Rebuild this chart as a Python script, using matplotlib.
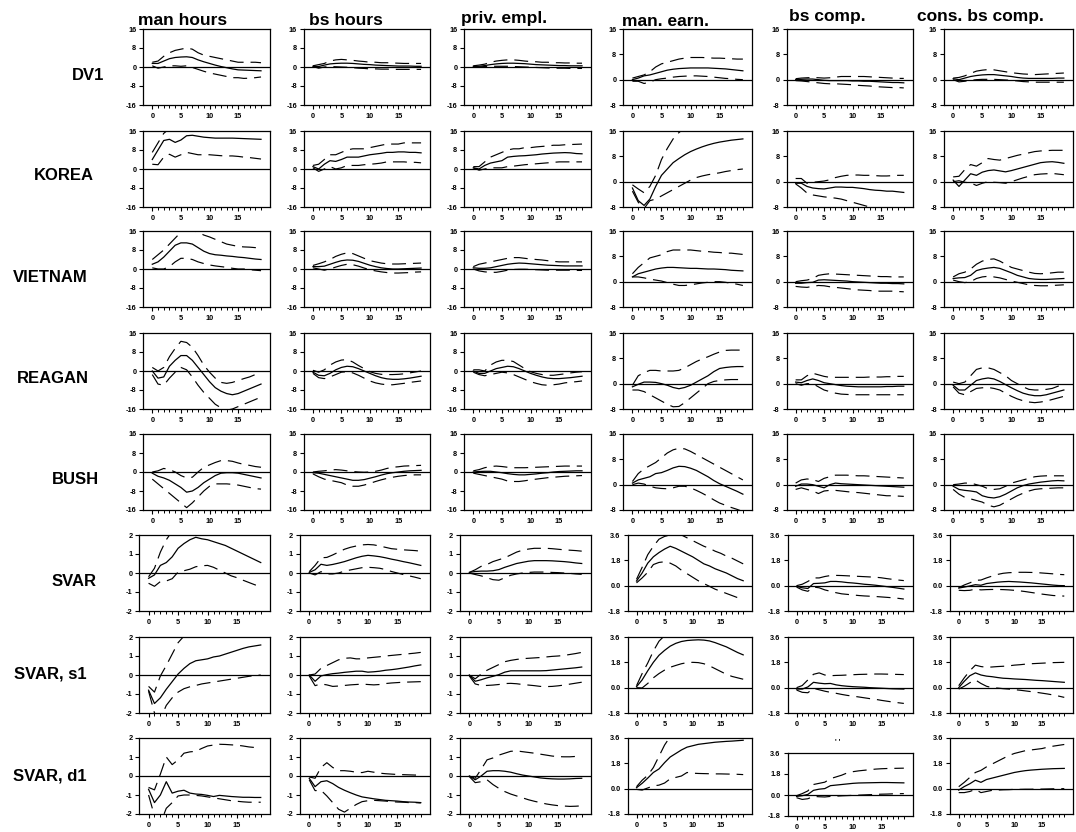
import numpy as np
import matplotlib.pyplot as plt

plt.rcParams['font.family'] = ['Liberation Sans', 'DejaVu Sans']
plt.rcParams['lines.scale_dashes'] = False

# -------- Data --------
steps = np.arange(20)
columns = ["man hours", "bs hours", "priv. empl.", "man. earn.", "bs comp.", "cons. bs comp."]
rows = ["DV1", "KOREA", "VIETNAM", "REAGAN", "BUSH", "SVAR", "SVAR, s1", "SVAR, d1"]

# one list per column: point estimate (mid), lower band (lo), upper band (hi)
dv1_mid = [
    [1.5, 1.5, 2.5, 3.5, 4.0, 4.2, 4.3, 4.0, 3.0, 2.2, 1.5, 0.8, 0.2, -0.3, -0.8, -1.2, -1.3, -1.4, -1.5, -1.6],
    [0.3, 0.2, 0.8, 1.3, 1.5, 1.6, 1.6, 1.5, 1.3, 1.1, 1.0, 0.8, 0.7, 0.6, 0.5, 0.4, 0.4, 0.4, 0.3, 0.3],
    [0.3, 0.3, 0.6, 1.0, 1.3, 1.5, 1.6, 1.6, 1.5, 1.4, 1.2, 1.0, 0.9, 0.8, 0.7, 0.6, 0.6, 0.5, 0.5, 0.5],
    [0.0, 0.5, 1.2, 1.5, 2.0, 2.5, 3.0, 3.3, 3.5, 3.6, 3.7, 3.7, 3.7, 3.7, 3.6, 3.5, 3.4, 3.2, 3.0, 2.8],
    [0.0, 0.1, 0.2, 0.2, 0.0, -0.2, -0.3, -0.3, -0.3, -0.3, -0.4, -0.4, -0.5, -0.5, -0.6, -0.7, -0.8, -0.9, -0.9, -1.0],
    [0.3, 0.0, 0.5, 1.0, 1.3, 1.5, 1.6, 1.6, 1.4, 1.2, 1.0, 0.7, 0.5, 0.4, 0.4, 0.4, 0.4, 0.4, 0.5, 0.5],
]
dv1_lo = [
    [0.5, -0.5, 0.0, 0.5, 0.5, 0.3, 0.5, -0.2, -1.0, -1.8, -2.5, -3.0, -3.5, -4.0, -4.5, -4.5, -4.8, -4.7, -4.5, -4.2],
    [0.2, -0.5, 0.0, 0.2, 0.1, 0.0, -0.1, -0.3, -0.5, -0.6, -0.8, -0.8, -0.9, -0.9, -1.0, -1.0, -1.0, -1.0, -1.0, -1.0],
    [0.2, 0.0, 0.2, 0.3, 0.3, 0.3, 0.3, 0.2, 0.1, 0.0, -0.1, -0.2, -0.3, -0.4, -0.5, -0.5, -0.5, -0.6, -0.6, -0.6],
    [-0.5, -0.5, -1.2, -0.8, 0.0, 0.3, 0.5, 0.8, 1.0, 1.1, 1.2, 1.2, 1.1, 1.0, 0.8, 0.6, 0.4, 0.3, 0.1, 0.0],
    [-0.3, -0.4, -0.6, -0.8, -1.0, -1.2, -1.3, -1.3, -1.4, -1.5, -1.6, -1.8, -1.9, -2.0, -2.2, -2.3, -2.4, -2.5, -2.5, -2.6],
    [0.0, -0.7, -0.5, -0.2, 0.0, 0.1, 0.1, 0.1, 0.0, -0.1, -0.2, -0.4, -0.6, -0.7, -0.8, -0.8, -0.8, -0.8, -0.8, -0.8],
]
dv1_hi = [
    [2.0, 2.5, 4.5, 6.0, 7.0, 7.5, 8.0, 7.5, 6.0, 5.0, 4.5, 4.0, 3.5, 3.0, 2.5, 2.0, 2.0, 2.0, 2.0, 1.8],
    [0.5, 1.0, 1.5, 2.5, 3.0, 3.2, 3.0, 2.8, 2.5, 2.3, 2.0, 2.0, 1.8, 1.8, 1.7, 1.6, 1.5, 1.5, 1.5, 1.5],
    [0.5, 0.8, 1.2, 2.0, 2.5, 2.8, 3.0, 3.0, 2.8, 2.5, 2.3, 2.2, 2.0, 2.0, 1.8, 1.8, 1.7, 1.7, 1.6, 1.6],
    [0.5, 1.0, 1.5, 2.5, 4.0, 5.0, 5.5, 6.0, 6.5, 6.8, 7.0, 7.0, 7.0, 6.9, 6.8, 6.8, 6.7, 6.6, 6.5, 6.5],
    [0.3, 0.5, 0.6, 0.7, 0.6, 0.5, 0.6, 0.8, 1.0, 1.0, 1.0, 1.0, 1.0, 0.9, 0.8, 0.7, 0.6, 0.5, 0.4, 0.4],
    [0.5, 0.7, 1.2, 2.0, 2.7, 3.0, 3.2, 3.1, 2.8, 2.5, 2.2, 2.0, 1.8, 1.7, 1.6, 1.7, 1.8, 1.9, 2.0, 2.1],
]

korea_mid = [
    [4.0, 8.0, 12.0, 12.5, 11.2, 12.2, 14.0, 14.2, 13.8, 13.4, 13.2, 13.0, 13.0, 13.0, 13.0, 12.9, 12.8, 12.7, 12.6, 12.5],
    [1.0, 0.0, 2.0, 3.5, 3.2, 4.0, 5.0, 5.0, 5.0, 5.5, 6.0, 6.3, 6.6, 7.0, 7.0, 7.2, 7.2, 7.0, 7.0, 6.8],
    [0.5, 0.0, 1.5, 2.5, 3.0, 3.5, 5.0, 5.3, 5.5, 5.6, 5.8, 6.0, 6.3, 6.5, 6.7, 6.8, 6.9, 6.8, 6.5, 6.4],
    [-2.0, -6.0, -7.5, -5.5, -1.5, 2.0, 4.0, 6.0, 7.3, 8.5, 9.5, 10.3, 11.0, 11.6, 12.1, 12.5, 12.8, 13.1, 13.3, 13.5],
    [-0.5, -0.5, -1.5, -2.0, -2.2, -2.3, -2.0, -1.7, -1.7, -1.8, -1.8, -2.0, -2.2, -2.5, -2.7, -2.8, -3.0, -3.0, -3.2, -3.4],
    [0.5, -1.5, 0.5, 2.5, 2.0, 3.0, 3.5, 3.7, 3.4, 3.1, 3.5, 4.0, 4.5, 5.0, 5.5, 6.0, 6.2, 6.3, 6.1, 5.8],
]
korea_lo = [
    [2.0, 1.8, 5.0, 6.2, 5.0, 6.0, 7.0, 6.5, 6.0, 6.0, 6.0, 5.8, 5.6, 5.5, 5.5, 5.3, 5.0, 4.8, 4.5, 4.2],
    [0.5, -1.0, 0.0, 1.0, 0.0, 0.5, 1.5, 1.5, 1.5, 1.8, 2.0, 2.2, 2.5, 3.0, 3.0, 3.0, 3.0, 2.8, 2.8, 2.6],
    [0.5, -0.5, 0.0, 0.5, 0.5, 0.5, 1.0, 1.2, 1.5, 1.8, 2.0, 2.2, 2.4, 2.6, 2.8, 3.0, 3.0, 3.0, 3.0, 3.0],
    [-3.0, -6.5, -8.5, -6.0, -5.5, -4.5, -3.5, -2.5, -1.5, -0.5, 0.5, 1.3, 1.8, 2.2, 2.5, 2.8, 3.2, 3.5, 3.8, 4.0],
    [-0.7, -2.0, -3.6, -4.2, -4.5, -4.8, -5.0, -5.2, -5.5, -6.0, -6.5, -7.0, -7.5, -8.0, -8.5, -8.7, -8.8, -8.8, -8.8, -8.8],
    [0.0, 0.3, -0.2, -0.4, -1.2, -0.5, 0.0, -0.2, -0.3, -0.5, 0.0, 0.6, 1.2, 1.7, 2.2, 2.4, 2.5, 2.6, 2.4, 2.2],
]
korea_hi = [
    [7.0, 11.0, 15.0, 17.0, 18.0, 18.0, 18.0, 18.0, 18.0, 18.0, 18.0, 18.0, 18.0, 18.0, 18.0, 18.0, 18.0, 18.0, 18.0, 18.0],
    [1.5, 2.0, 4.0, 6.0, 6.0, 7.0, 8.0, 8.5, 8.5, 8.5, 9.0, 9.5, 10.0, 10.5, 10.5, 10.5, 11.0, 11.0, 11.0, 11.0],
    [1.0, 1.0, 3.0, 5.0, 6.0, 7.0, 8.0, 8.5, 8.5, 9.0, 9.0, 9.3, 9.5, 9.7, 10.0, 10.0, 10.2, 10.3, 10.4, 10.5],
    [-1.0, -2.3, -3.5, -1.5, 2.0, 7.0, 10.5, 13.5, 15.5, 17.0, 18.0, 19.0, 19.0, 19.0, 19.0, 19.0, 19.0, 19.0, 19.0, 19.0],
    [1.0, 1.0, -0.5, -0.2, 0.0, 0.2, 0.6, 1.3, 1.7, 2.0, 2.1, 2.1, 2.0, 2.0, 1.9, 1.8, 1.8, 1.9, 2.0, 2.0],
    [1.5, 1.7, 3.8, 5.4, 4.9, 6.0, 7.3, 7.0, 6.8, 7.3, 7.8, 8.3, 8.7, 9.1, 9.5, 9.7, 9.8, 9.9, 9.9, 9.9],
]

vietnam_mid = [
    [2.0, 3.0, 5.0, 7.5, 10.0, 11.0, 11.0, 10.5, 9.0, 7.5, 6.5, 6.0, 5.8, 5.5, 5.3, 5.0, 4.8, 4.5, 4.2, 4.0],
    [1.0, 1.0, 1.2, 2.0, 2.8, 3.5, 3.8, 3.7, 3.2, 2.4, 1.6, 1.0, 0.5, 0.2, 0.0, 0.0, 0.1, 0.2, 0.3, 0.4],
    [0.5, 0.3, 0.3, 0.5, 1.0, 1.5, 2.0, 2.3, 2.5, 2.4, 2.2, 2.0, 1.8, 1.6, 1.5, 1.4, 1.3, 1.3, 1.3, 1.3],
    [1.5, 2.5, 3.0, 3.5, 4.0, 4.3, 4.5, 4.5, 4.4, 4.3, 4.2, 4.2, 4.1, 4.0, 4.0, 3.9, 3.8, 3.6, 3.5, 3.4],
    [-0.5, -0.5, -0.3, -0.2, 0.5, 0.6, 0.5, 0.4, 0.3, 0.2, 0.0, -0.1, -0.2, -0.3, -0.4, -0.5, -0.5, -0.6, -0.6, -0.7],
    [1.0, 1.2, 1.3, 2.0, 3.5, 4.0, 4.3, 4.5, 4.2, 3.5, 2.8, 2.0, 1.5, 1.0, 0.8, 0.7, 0.7, 0.8, 0.9, 1.0],
]
vietnam_lo = [
    [0.5, 0.0, 0.0, 1.0, 3.0, 4.5, 4.5, 4.0, 3.0, 2.3, 1.7, 1.3, 1.0, 0.7, 0.3, 0.0, 0.0, -0.3, -0.5, -0.7],
    [0.5, 0.0, -0.5, 0.0, 0.8, 1.5, 2.0, 1.8, 1.2, 0.4, -0.3, -0.8, -1.2, -1.5, -1.7, -1.7, -1.6, -1.5, -1.3, -1.2],
    [0.0, -0.8, -1.2, -1.4, -1.4, -1.0, -0.5, -0.2, -0.1, -0.1, -0.2, -0.3, -0.4, -0.5, -0.5, -0.5, -0.5, -0.5, -0.6, -0.6],
    [1.5, 1.5, 1.2, 0.8, 0.5, 0.2, -0.3, -0.8, -1.2, -1.2, -1.0, -0.7, -0.4, -0.2, 0.0, 0.0, -0.2, -0.5, -0.8, -1.2],
    [-1.5, -1.7, -1.8, -1.5, -1.2, -1.3, -1.6, -1.8, -2.0, -2.2, -2.4, -2.6, -2.7, -2.8, -3.0, -3.0, -3.0, -3.0, -3.1, -3.2],
    [0.5, 0.0, -0.3, 0.0, 1.0, 1.5, 1.7, 1.5, 1.2, 0.7, 0.2, -0.2, -0.6, -1.0, -1.2, -1.3, -1.3, -1.2, -1.1, -1.0],
]
vietnam_hi = [
    [4.0, 6.0, 8.0, 10.5, 13.0, 15.5, 16.5, 16.3, 15.5, 14.3, 13.5, 12.5, 11.5, 10.5, 10.0, 9.5, 9.3, 9.2, 9.0, 9.0],
    [1.5, 2.2, 3.0, 4.0, 5.3, 6.2, 6.8, 6.5, 5.5, 4.5, 3.5, 3.0, 2.5, 2.2, 2.1, 2.1, 2.2, 2.3, 2.4, 2.5],
    [1.0, 2.0, 2.5, 3.0, 3.5, 4.0, 4.5, 4.8, 4.8, 4.5, 4.2, 4.0, 3.8, 3.5, 3.2, 3.0, 3.0, 3.0, 3.0, 3.0],
    [2.5, 4.5, 6.0, 7.5, 8.0, 8.5, 9.5, 10.0, 10.0, 10.0, 10.0, 9.8, 9.6, 9.5, 9.3, 9.2, 9.0, 9.0, 8.8, 8.6],
    [0.0, 0.3, 0.5, 1.0, 2.0, 2.3, 2.5, 2.4, 2.3, 2.2, 2.1, 2.0, 1.9, 1.8, 1.7, 1.6, 1.6, 1.5, 1.5, 1.5],
    [1.5, 2.5, 3.0, 4.0, 5.5, 6.5, 7.0, 7.2, 6.5, 5.5, 4.5, 4.0, 3.5, 3.0, 2.6, 2.5, 2.6, 2.8, 3.0, 3.0],
]

reagan_mid = [
    [0.0, -3.0, -2.5, 2.0, 4.5, 6.5, 6.5, 4.5, 1.5, -1.5, -4.5, -7.0, -8.5, -9.5, -10.0, -9.5, -8.5, -7.5, -6.5, -5.5],
    [-0.5, -1.8, -2.0, -1.0, 0.5, 1.5, 2.0, 1.8, 1.0, 0.0, -1.0, -2.0, -2.8, -3.3, -3.5, -3.5, -3.3, -3.0, -2.6, -2.2],
    [0.0, -1.0, -1.0, 0.0, 1.0, 1.5, 2.0, 1.8, 1.0, 0.0, -1.0, -1.8, -2.5, -3.0, -3.2, -3.2, -3.0, -2.8, -2.5, -2.2],
    [-1.0, -0.2, 0.5, 0.5, 0.4, 0.0, -0.5, -1.2, -1.6, -1.2, -0.5, 0.5, 1.5, 2.5, 3.8, 4.8, 5.1, 5.3, 5.4, 5.4],
    [0.5, 0.3, 1.0, 1.5, 1.0, 0.3, 0.0, -0.3, -0.6, -0.8, -0.9, -1.0, -1.0, -1.0, -1.0, -1.0, -0.9, -0.9, -0.8, -0.8],
    [-0.5, -2.0, -2.0, -0.5, 1.0, 1.5, 1.8, 1.5, 0.7, -0.3, -1.3, -2.2, -3.0, -3.5, -3.8, -3.8, -3.5, -3.0, -2.5, -2.0],
]
reagan_lo = [
    [-1.5, -5.5, -6.0, -3.0, -0.5, 1.5, 0.5, -2.5, -6.0, -9.0, -11.5, -14.0, -15.5, -16.5, -16.0, -15.0, -14.0, -13.0, -12.0, -11.0],
    [-1.0, -2.8, -3.2, -2.5, -1.5, -0.5, -0.3, -0.8, -1.8, -3.0, -4.2, -5.0, -5.5, -5.8, -5.8, -5.5, -5.2, -4.8, -4.5, -4.2],
    [-0.5, -1.5, -2.0, -1.5, -1.0, -0.5, -0.8, -1.5, -2.5, -3.5, -4.5, -5.2, -5.8, -6.0, -5.8, -5.5, -5.0, -4.7, -4.5, -4.2],
    [-2.0, -2.0, -2.5, -3.5, -4.5, -5.5, -6.5, -7.3, -7.2, -6.0, -4.5, -3.0, -1.5, 0.0, 0.7, 1.0, 1.2, 1.3, 1.3, 1.3],
    [0.0, -0.5, 0.0, 0.0, -1.0, -2.0, -2.5, -3.0, -3.3, -3.4, -3.5, -3.5, -3.5, -3.5, -3.5, -3.5, -3.5, -3.5, -3.5, -3.5],
    [-1.0, -3.0, -3.5, -2.5, -1.5, -1.3, -1.2, -1.5, -2.0, -3.0, -4.0, -4.8, -5.4, -5.8, -6.0, -5.8, -5.5, -5.0, -4.5, -4.0],
]
reagan_hi = [
    [1.5, 0.0, 1.5, 6.0, 9.5, 12.5, 12.0, 10.0, 6.5, 2.5, -0.5, -3.0, -4.8, -5.2, -4.8, -4.0, -3.2, -2.5, -1.5, -0.8],
    [0.3, -0.5, 0.5, 2.5, 3.8, 4.6, 4.8, 3.8, 2.3, 1.0, -0.3, -1.0, -1.4, -1.5, -1.5, -1.4, -1.2, -0.8, -0.4, 0.0],
    [0.5, 0.5, 0.0, 2.5, 3.8, 4.5, 4.5, 4.0, 2.5, 1.0, -0.3, -1.0, -1.5, -1.8, -1.8, -1.5, -1.2, -0.8, -0.5, -0.3],
    [-0.5, 2.5, 3.5, 4.2, 4.2, 4.0, 4.0, 4.0, 4.2, 5.0, 6.0, 7.0, 7.8, 8.5, 9.3, 10.0, 10.5, 10.6, 10.6, 10.6],
    [1.2, 1.2, 2.5, 3.3, 2.8, 2.3, 2.0, 2.0, 2.0, 2.0, 2.0, 2.0, 2.0, 2.1, 2.1, 2.1, 2.2, 2.2, 2.3, 2.3],
    [0.5, 0.0, 0.5, 2.5, 4.5, 5.0, 5.0, 4.5, 3.5, 2.5, 1.0, 0.0, -1.0, -1.8, -2.0, -2.0, -1.8, -1.5, -0.8, 0.0],
]

bush_mid = [
    [-0.5, -1.8, -2.5, -3.5, -5.0, -6.5, -8.5, -8.0, -6.5, -4.5, -3.0, -1.5, -0.5, -0.3, -0.3, -0.5, -1.0, -1.5, -2.0, -2.5],
    [-0.3, -0.5, -1.0, -1.5, -2.0, -2.5, -3.0, -3.5, -3.5, -3.2, -2.6, -2.0, -1.3, -0.7, -0.3, 0.0, 0.3, 0.5, 0.6, 0.7],
    [0.0, 0.2, 0.3, 0.3, 0.0, -0.3, -0.7, -1.0, -1.2, -1.2, -1.0, -0.8, -0.5, -0.3, 0.0, 0.2, 0.3, 0.4, 0.5, 0.5],
    [0.5, 1.5, 2.0, 2.5, 3.5, 3.8, 4.5, 5.3, 5.8, 5.7, 5.2, 4.5, 3.5, 2.5, 1.3, 0.3, -0.5, -1.3, -2.1, -3.0],
    [-0.5, 0.2, 0.2, 0.0, -0.5, -1.0, 0.0, 0.5, 0.3, 0.2, 0.1, 0.0, -0.1, -0.2, -0.3, -0.4, -0.5, -0.6, -0.7, -0.8],
    [-0.5, -1.5, -1.8, -2.0, -2.3, -3.5, -4.0, -4.2, -3.8, -3.0, -2.0, -1.0, -0.3, 0.2, 0.5, 0.8, 1.0, 1.2, 1.3, 1.2],
]
bush_lo = [
    [-3.0, -5.0, -7.0, -9.0, -11.0, -13.0, -15.0, -13.0, -10.5, -8.0, -6.0, -5.0, -5.0, -5.0, -5.2, -5.5, -6.0, -6.5, -7.0, -7.2],
    [-0.8, -2.0, -3.0, -3.5, -4.0, -4.5, -5.5, -6.0, -6.0, -5.5, -4.8, -4.0, -3.3, -2.7, -2.2, -1.8, -1.5, -1.3, -1.2, -1.2],
    [-0.5, -1.0, -1.5, -2.0, -2.5, -3.0, -3.8, -4.0, -4.0, -3.7, -3.3, -3.0, -2.7, -2.4, -2.2, -2.0, -1.8, -1.7, -1.6, -1.5],
    [0.0, 0.5, 0.2, -0.5, -1.0, -1.2, -1.3, -1.0, -0.5, -0.5, -1.0, -1.8, -2.7, -3.7, -4.8, -5.8, -6.5, -7.2, -7.8, -8.5],
    [-1.5, -1.0, -1.5, -2.0, -2.8, -2.0, -1.8, -1.8, -2.0, -2.2, -2.4, -2.5, -2.7, -2.9, -3.1, -3.3, -3.5, -3.5, -3.6, -3.7],
    [-1.5, -3.0, -4.0, -4.5, -5.0, -5.5, -6.5, -7.0, -6.5, -5.5, -4.5, -3.5, -2.7, -2.0, -1.5, -1.3, -1.2, -1.1, -1.0, -1.0],
]
bush_hi = [
    [0.0, 0.5, 1.5, 1.0, 0.0, -1.5, -2.5, -2.2, 0.0, 2.0, 3.0, 4.0, 4.8, 4.8, 4.5, 3.8, 3.2, 2.8, 2.3, 2.0],
    [0.0, 0.3, 0.5, 0.8, 1.0, 0.8, 0.5, 0.2, 0.0, -0.1, 0.0, 0.3, 0.8, 1.5, 2.0, 2.2, 2.5, 2.6, 2.7, 2.8],
    [0.5, 1.0, 1.8, 2.3, 2.5, 2.3, 2.0, 1.8, 1.8, 1.8, 1.9, 2.0, 2.1, 2.2, 2.3, 2.4, 2.5, 2.5, 2.5, 2.5],
    [1.0, 3.5, 5.0, 6.0, 7.0, 8.5, 10.0, 11.0, 11.5, 11.3, 10.5, 9.5, 8.5, 7.5, 6.5, 5.5, 4.5, 3.5, 2.5, 1.5],
    [0.5, 1.5, 1.8, 1.6, 1.0, 2.0, 2.5, 3.0, 3.0, 3.0, 2.9, 2.8, 2.8, 2.7, 2.6, 2.5, 2.4, 2.3, 2.2, 2.1],
    [0.0, 0.2, 0.5, 0.5, 0.0, -0.5, -1.3, -1.5, -1.3, -0.5, 0.5, 1.0, 1.5, 2.0, 2.5, 2.7, 2.8, 2.8, 2.8, 2.8],
]

svar_mid = [
    [-0.28, -0.1, 0.4, 0.55, 0.85, 1.3, 1.55, 1.75, 1.88, 1.8, 1.75, 1.65, 1.55, 1.45, 1.3, 1.15, 1.0, 0.85, 0.7, 0.55],
    [0.03, 0.17, 0.46, 0.4, 0.45, 0.52, 0.6, 0.7, 0.8, 0.88, 0.93, 0.9, 0.86, 0.8, 0.73, 0.67, 0.6, 0.54, 0.47, 0.4],
    [0.03, 0.08, 0.1, 0.1, 0.12, 0.18, 0.3, 0.4, 0.5, 0.56, 0.62, 0.65, 0.65, 0.65, 0.64, 0.62, 0.6, 0.57, 0.53, 0.5],
    [0.33, 0.9, 1.6, 2.05, 2.35, 2.6, 2.8, 2.65, 2.45, 2.25, 2.05, 1.8, 1.55, 1.4, 1.2, 1.05, 0.9, 0.7, 0.5, 0.35],
    [-0.05, -0.15, -0.2, 0.15, 0.17, 0.2, 0.3, 0.3, 0.27, 0.22, 0.19, 0.15, 0.1, 0.07, 0.03, -0.02, -0.07, -0.12, -0.18, -0.24],
    [-0.17, -0.1, -0.02, 0.07, 0.03, 0.15, 0.2, 0.25, 0.28, 0.3, 0.28, 0.26, 0.23, 0.2, 0.16, 0.12, 0.08, 0.04, 0.01, 0.0],
]
svar_lo = [
    [-0.54, -0.7, -0.45, -0.42, -0.3, 0.05, 0.12, 0.2, 0.33, 0.38, 0.4, 0.3, 0.15, 0.0, -0.15, -0.25, -0.38, -0.5, -0.62, -0.72],
    [0.0, -0.1, 0.07, -0.05, -0.05, 0.0, 0.1, 0.16, 0.22, 0.28, 0.3, 0.28, 0.25, 0.18, 0.08, 0.0, -0.08, -0.15, -0.22, -0.3],
    [0.0, -0.08, -0.15, -0.25, -0.35, -0.38, -0.25, -0.12, -0.05, 0.0, 0.03, 0.05, 0.05, 0.05, 0.03, 0.02, 0.0, -0.02, -0.05, -0.07],
    [0.2, 0.55, 0.95, 1.5, 1.65, 1.7, 1.6, 1.4, 1.1, 0.85, 0.6, 0.35, 0.15, -0.05, -0.25, -0.4, -0.55, -0.7, -0.85, -0.96],
    [-0.1, -0.3, -0.4, -0.1, -0.15, -0.3, -0.4, -0.5, -0.58, -0.62, -0.66, -0.7, -0.73, -0.75, -0.77, -0.8, -0.83, -0.86, -0.9, -0.95],
    [-0.33, -0.35, -0.33, -0.24, -0.3, -0.28, -0.27, -0.27, -0.28, -0.3, -0.33, -0.37, -0.42, -0.48, -0.54, -0.6, -0.65, -0.7, -0.72, -0.74],
]
svar_hi = [
    [-0.2, 0.25, 1.1, 1.75, 2.2, 2.5, 2.7, 2.8, 2.9, 2.9, 2.9, 2.8, 2.7, 2.6, 2.5, 2.4, 2.3, 2.2, 2.1, 2.05],
    [0.07, 0.4, 0.8, 0.82, 0.95, 1.1, 1.25, 1.35, 1.42, 1.48, 1.5, 1.48, 1.42, 1.35, 1.28, 1.25, 1.22, 1.2, 1.18, 1.15],
    [0.03, 0.17, 0.35, 0.45, 0.6, 0.7, 0.8, 0.95, 1.1, 1.2, 1.26, 1.3, 1.3, 1.3, 1.28, 1.25, 1.22, 1.2, 1.18, 1.15],
    [0.45, 1.3, 2.2, 2.8, 3.3, 3.5, 3.6, 3.65, 3.6, 3.4, 3.2, 3.0, 2.8, 2.65, 2.45, 2.3, 2.1, 1.95, 1.75, 1.55],
    [0.0, 0.1, 0.3, 0.55, 0.55, 0.65, 0.72, 0.73, 0.72, 0.7, 0.68, 0.66, 0.64, 0.62, 0.6, 0.56, 0.5, 0.45, 0.4, 0.36],
    [-0.15, 0.05, 0.2, 0.38, 0.4, 0.55, 0.68, 0.8, 0.88, 0.92, 0.94, 0.95, 0.95, 0.94, 0.93, 0.9, 0.87, 0.84, 0.8, 0.78],
]

s1_mid = [
    [-0.8, -1.5, -1.2, -0.75, -0.35, 0.05, 0.35, 0.6, 0.75, 0.8, 0.85, 0.95, 1.0, 1.1, 1.2, 1.3, 1.4, 1.48, 1.53, 1.58],
    [0.0, -0.33, -0.05, 0.02, 0.07, 0.1, 0.14, 0.17, 0.2, 0.2, 0.15, 0.17, 0.2, 0.25, 0.28, 0.32, 0.37, 0.42, 0.48, 0.53],
    [0.0, -0.33, -0.25, -0.15, -0.07, 0.02, 0.15, 0.22, 0.22, 0.22, 0.22, 0.22, 0.22, 0.23, 0.26, 0.29, 0.32, 0.35, 0.38, 0.42],
    [0.07, 0.55, 1.2, 1.8, 2.3, 2.65, 2.95, 3.15, 3.28, 3.35, 3.38, 3.4, 3.38, 3.32, 3.2, 3.05, 2.9, 2.7, 2.5, 2.33],
    [-0.1, -0.1, 0.05, 0.38, 0.32, 0.28, 0.3, 0.2, 0.14, 0.1, 0.07, 0.05, 0.03, 0.0, -0.02, -0.04, -0.06, -0.08, -0.09, -0.1],
    [0.0, 0.45, 0.85, 1.05, 0.9, 0.82, 0.78, 0.72, 0.67, 0.65, 0.62, 0.6, 0.58, 0.55, 0.52, 0.5, 0.47, 0.44, 0.41, 0.38],
]
s1_lo = [
    [-0.85, -2.0, -2.3, -1.6, -1.2, -0.9, -0.72, -0.62, -0.55, -0.47, -0.42, -0.37, -0.32, -0.27, -0.22, -0.17, -0.12, -0.07, -0.03, 0.0],
    [-0.05, -0.56, -0.47, -0.52, -0.6, -0.58, -0.55, -0.52, -0.5, -0.48, -0.5, -0.52, -0.5, -0.45, -0.42, -0.4, -0.38, -0.37, -0.36, -0.35],
    [-0.05, -0.47, -0.55, -0.55, -0.53, -0.5, -0.45, -0.44, -0.46, -0.5, -0.53, -0.56, -0.6, -0.61, -0.6, -0.57, -0.53, -0.48, -0.43, -0.38],
    [0.0, -0.02, 0.3, 0.7, 1.0, 1.25, 1.45, 1.58, 1.7, 1.78, 1.8, 1.78, 1.7, 1.55, 1.35, 1.15, 0.95, 0.8, 0.7, 0.6],
    [-0.17, -0.33, -0.36, -0.05, -0.15, -0.25, -0.33, -0.4, -0.48, -0.55, -0.6, -0.66, -0.72, -0.78, -0.83, -0.9, -0.96, -1.02, -1.07, -1.12],
    [-0.1, 0.1, 0.35, 0.55, 0.3, 0.1, 0.0, -0.03, -0.07, -0.1, -0.14, -0.18, -0.23, -0.28, -0.33, -0.39, -0.45, -0.52, -0.6, -0.69],
]
s1_hi = [
    [-0.6, -0.9, -0.05, 0.5, 1.1, 1.7, 2.05, 2.2, 2.3, 2.35, 2.4, 2.4, 2.4, 2.4, 2.4, 2.4, 2.35, 2.3, 2.3, 2.3],
    [0.0, 0.05, 0.35, 0.5, 0.65, 0.8, 0.88, 0.9, 0.85, 0.85, 0.9, 0.93, 0.96, 1.0, 1.03, 1.06, 1.09, 1.12, 1.15, 1.19],
    [0.0, -0.2, 0.05, 0.25, 0.4, 0.55, 0.7, 0.77, 0.82, 0.86, 0.88, 0.9, 0.92, 0.95, 0.98, 1.0, 1.03, 1.08, 1.13, 1.19],
    [0.14, 1.0, 1.75, 2.6, 3.3, 3.7, 4.0, 4.2, 4.3, 4.4, 4.4, 4.4, 4.4, 4.3, 4.2, 4.1, 4.0, 3.9, 3.8, 3.75],
    [0.0, 0.15, 0.55, 0.95, 1.05, 0.9, 0.85, 0.87, 0.88, 0.9, 0.92, 0.94, 0.95, 0.96, 0.97, 0.97, 0.96, 0.95, 0.94, 0.93],
    [0.14, 0.7, 1.2, 1.6, 1.5, 1.45, 1.47, 1.5, 1.52, 1.55, 1.6, 1.63, 1.67, 1.7, 1.72, 1.74, 1.76, 1.78, 1.79, 1.8],
]

d1_mid = [
    [-0.7, -1.4, -1.0, -0.3, -0.9, -0.8, -0.75, -0.9, -0.95, -0.97, -1.02, -1.08, -1.02, -1.05, -1.08, -1.1, -1.12, -1.12, -1.13, -1.13],
    [-0.12, -0.56, -0.3, -0.25, -0.4, -0.6, -0.75, -0.88, -1.0, -1.1, -1.15, -1.2, -1.24, -1.28, -1.3, -1.32, -1.35, -1.37, -1.38, -1.4],
    [0.0, -0.2, 0.0, 0.25, 0.28, 0.28, 0.25, 0.2, 0.12, 0.05, 0.0, -0.05, -0.1, -0.13, -0.15, -0.16, -0.16, -0.15, -0.13, -0.12],
    [0.07, 0.38, 0.75, 1.15, 1.4, 1.85, 2.25, 2.5, 2.75, 2.95, 3.05, 3.15, 3.2, 3.25, 3.3, 3.33, 3.36, 3.38, 3.41, 3.44],
    [-0.12, -0.06, 0.05, 0.4, 0.5, 0.55, 0.8, 0.85, 0.9, 0.95, 1.0, 1.03, 1.04, 1.05, 1.06, 1.07, 1.07, 1.06, 1.05, 1.04],
    [-0.1, 0.15, 0.35, 0.6, 0.45, 0.65, 0.75, 0.85, 0.95, 1.05, 1.15, 1.22, 1.28, 1.32, 1.35, 1.38, 1.4, 1.42, 1.43, 1.44],
]
d1_lo = [
    [-1.0, -2.1, -2.5, -1.7, -1.4, -1.05, -1.0, -1.0, -1.02, -1.05, -1.1, -1.15, -1.2, -1.25, -1.3, -1.33, -1.36, -1.38, -1.38, -1.38],
    [-0.2, -0.77, -0.75, -1.05, -1.4, -1.75, -1.9, -1.7, -1.5, -1.35, -1.3, -1.28, -1.3, -1.32, -1.35, -1.37, -1.38, -1.4, -1.4, -1.42],
    [-0.03, -0.35, -0.3, -0.2, -0.45, -0.65, -0.82, -0.95, -1.05, -1.15, -1.25, -1.33, -1.4, -1.47, -1.52, -1.56, -1.58, -1.6, -1.59, -1.57],
    [-0.05, -0.1, 0.05, 0.2, 0.25, 0.4, 0.7, 0.8, 0.9, 1.15, 1.1, 1.08, 1.07, 1.06, 1.05, 1.05, 1.04, 1.03, 1.02, 1.0],
    [-0.23, -0.38, -0.32, -0.12, -0.15, -0.17, -0.12, -0.1, -0.07, -0.05, -0.03, -0.01, 0.01, 0.03, 0.05, 0.07, 0.08, 0.1, 0.11, 0.12],
    [-0.28, -0.28, -0.2, -0.05, -0.28, -0.2, -0.12, -0.1, -0.08, -0.07, -0.05, -0.05, -0.04, -0.04, -0.03, -0.03, -0.02, -0.01, 0.0, 0.0],
]
d1_hi = [
    [-0.6, -0.73, 0.1, 1.0, 0.6, 0.85, 1.2, 1.27, 1.3, 1.45, 1.58, 1.63, 1.67, 1.66, 1.64, 1.62, 1.58, 1.53, 1.5, 1.5],
    [-0.05, -0.12, 0.45, 0.7, 0.45, 0.28, 0.28, 0.25, 0.2, 0.18, 0.25, 0.2, 0.15, 0.12, 0.1, 0.08, 0.07, 0.06, 0.05, 0.05],
    [0.0, -0.12, 0.35, 0.85, 0.95, 1.1, 1.2, 1.3, 1.32, 1.28, 1.24, 1.2, 1.15, 1.1, 1.05, 1.02, 1.01, 1.01, 1.03, 1.05],
    [0.14, 0.6, 0.95, 1.5, 2.3, 3.1, 3.7, 3.9, 4.0, 4.0, 4.0, 4.0, 4.0, 4.0, 4.0, 4.0, 4.0, 4.0, 4.0, 4.0],
    [-0.06, 0.12, 0.35, 0.9, 1.0, 1.1, 1.4, 1.55, 1.7, 1.9, 2.0, 2.07, 2.12, 2.17, 2.22, 2.25, 2.27, 2.28, 2.29, 2.3],
    [0.14, 0.45, 0.8, 1.15, 1.3, 1.55, 1.75, 1.95, 2.15, 2.35, 2.5, 2.6, 2.7, 2.75, 2.8, 2.85, 2.95, 3.02, 3.08, 3.14],
]

all_mid = [dv1_mid, korea_mid, vietnam_mid, reagan_mid, bush_mid, svar_mid, s1_mid, d1_mid]
all_lo = [dv1_lo, korea_lo, vietnam_lo, reagan_lo, bush_lo, svar_lo, s1_lo, d1_lo]
all_hi = [dv1_hi, korea_hi, vietnam_hi, reagan_hi, bush_hi, svar_hi, s1_hi, d1_hi]

# y scales: historical episodes (rows 0-4) vs SVAR rows (5-7); quantities vs wages
yticks_hist_q = [-16, -8, 0, 8, 16]
yticks_hist_w = [-8, 0, 8, 16]
yticks_svar_q = [-2, -1, 0, 1, 2]
yticks_svar_w = [-1.8, 0.0, 1.8, 3.6]

# -------- Layout (pixels) --------
W, H = 1076, 832
left_hist = [143.3, 304.0, 464.3, 623.3, 786.7, 944.0]
left_svar = [139.3, 300.0, 460.0, 627.7, 787.7, 950.0]
right_edge = [270.0, 430.0, 591.0, 752.0, 912.7, 1073.0]
row_top = [29, 131, 231, 333, 434, 535, 637, 738]
panel_h = 76

title_x = [138, 309, 461, 622, 789, 917]
title_base = [25, 25, 23, 26, 21.5, 21.5]
label_x = [72, 34, 13, 17, 52, 52, 14, 13]
label_y = [75, 176, 277, 378, 479, 581, 674, 776]

fig = plt.figure(figsize=(W / 100, H / 100), dpi=100)
dash = (0, (10, 5))

for r in range(8):
    for c in range(6):
        left = left_hist[c] if r < 5 else left_svar[c]
        top, bottom = row_top[r], row_top[r] + panel_h
        if r == 7 and c == 4:
            top, bottom = 753, 816
        ax = fig.add_axes([left / W, 1 - bottom / H, (right_edge[c] - left) / W, (bottom - top) / H])

        ax.plot(steps, all_mid[r][c], color="black", lw=0.9)
        ax.plot(steps, all_lo[r][c], color="black", lw=0.85, ls=dash)
        ax.plot(steps, all_hi[r][c], color="black", lw=0.85, ls=dash)
        ax.axhline(0, color="black", lw=0.9)

        if r < 5:
            yt = yticks_hist_q if c < 3 else yticks_hist_w
            ylab = [str(v) for v in yt]
        else:
            yt = yticks_svar_q if c < 3 else yticks_svar_w
            ylab = [str(v) for v in yt] if c < 3 else [f"{v:.1f}" for v in yt]
        ax.set_ylim(yt[0], yt[-1])
        ax.set_yticks(yt)
        ax.set_yticklabels(ylab)
        ax.set_xlim(-1.57, 20.57)
        ax.set_xticks([0, 5, 10, 15])
        ax.set_xticks(range(20), minor=True)

        for s in ax.spines.values():
            s.set_linewidth(0.9)
        ax.tick_params(axis="both", which="major", direction="out", length=3, width=0.8,
                       labelsize=5.3, pad=2)
        ax.tick_params(axis="x", which="minor", direction="out", length=2, width=0.7)
        ax.tick_params(axis="x", which="major", pad=3)
        for lab in ax.get_xticklabels() + ax.get_yticklabels():
            lab.set_fontweight("bold")

for c, name in enumerate(columns):
    fig.text(title_x[c] / W, 1 - title_base[c] / H, name, fontsize=12.5, fontweight="bold",
             ha="left", va="baseline")

for r, name in enumerate(rows):
    fig.text(label_x[r] / W, 1 - label_y[r] / H, name, fontsize=12, fontweight="bold",
             ha="left", va="center")

# stray mark above the bs comp. / SVAR, d1 panel
fig.text(838 / W, 1 - 743 / H, "' '", fontsize=5, fontweight="bold", ha="center", va="center")

fig.savefig("out.png", dpi=100)
